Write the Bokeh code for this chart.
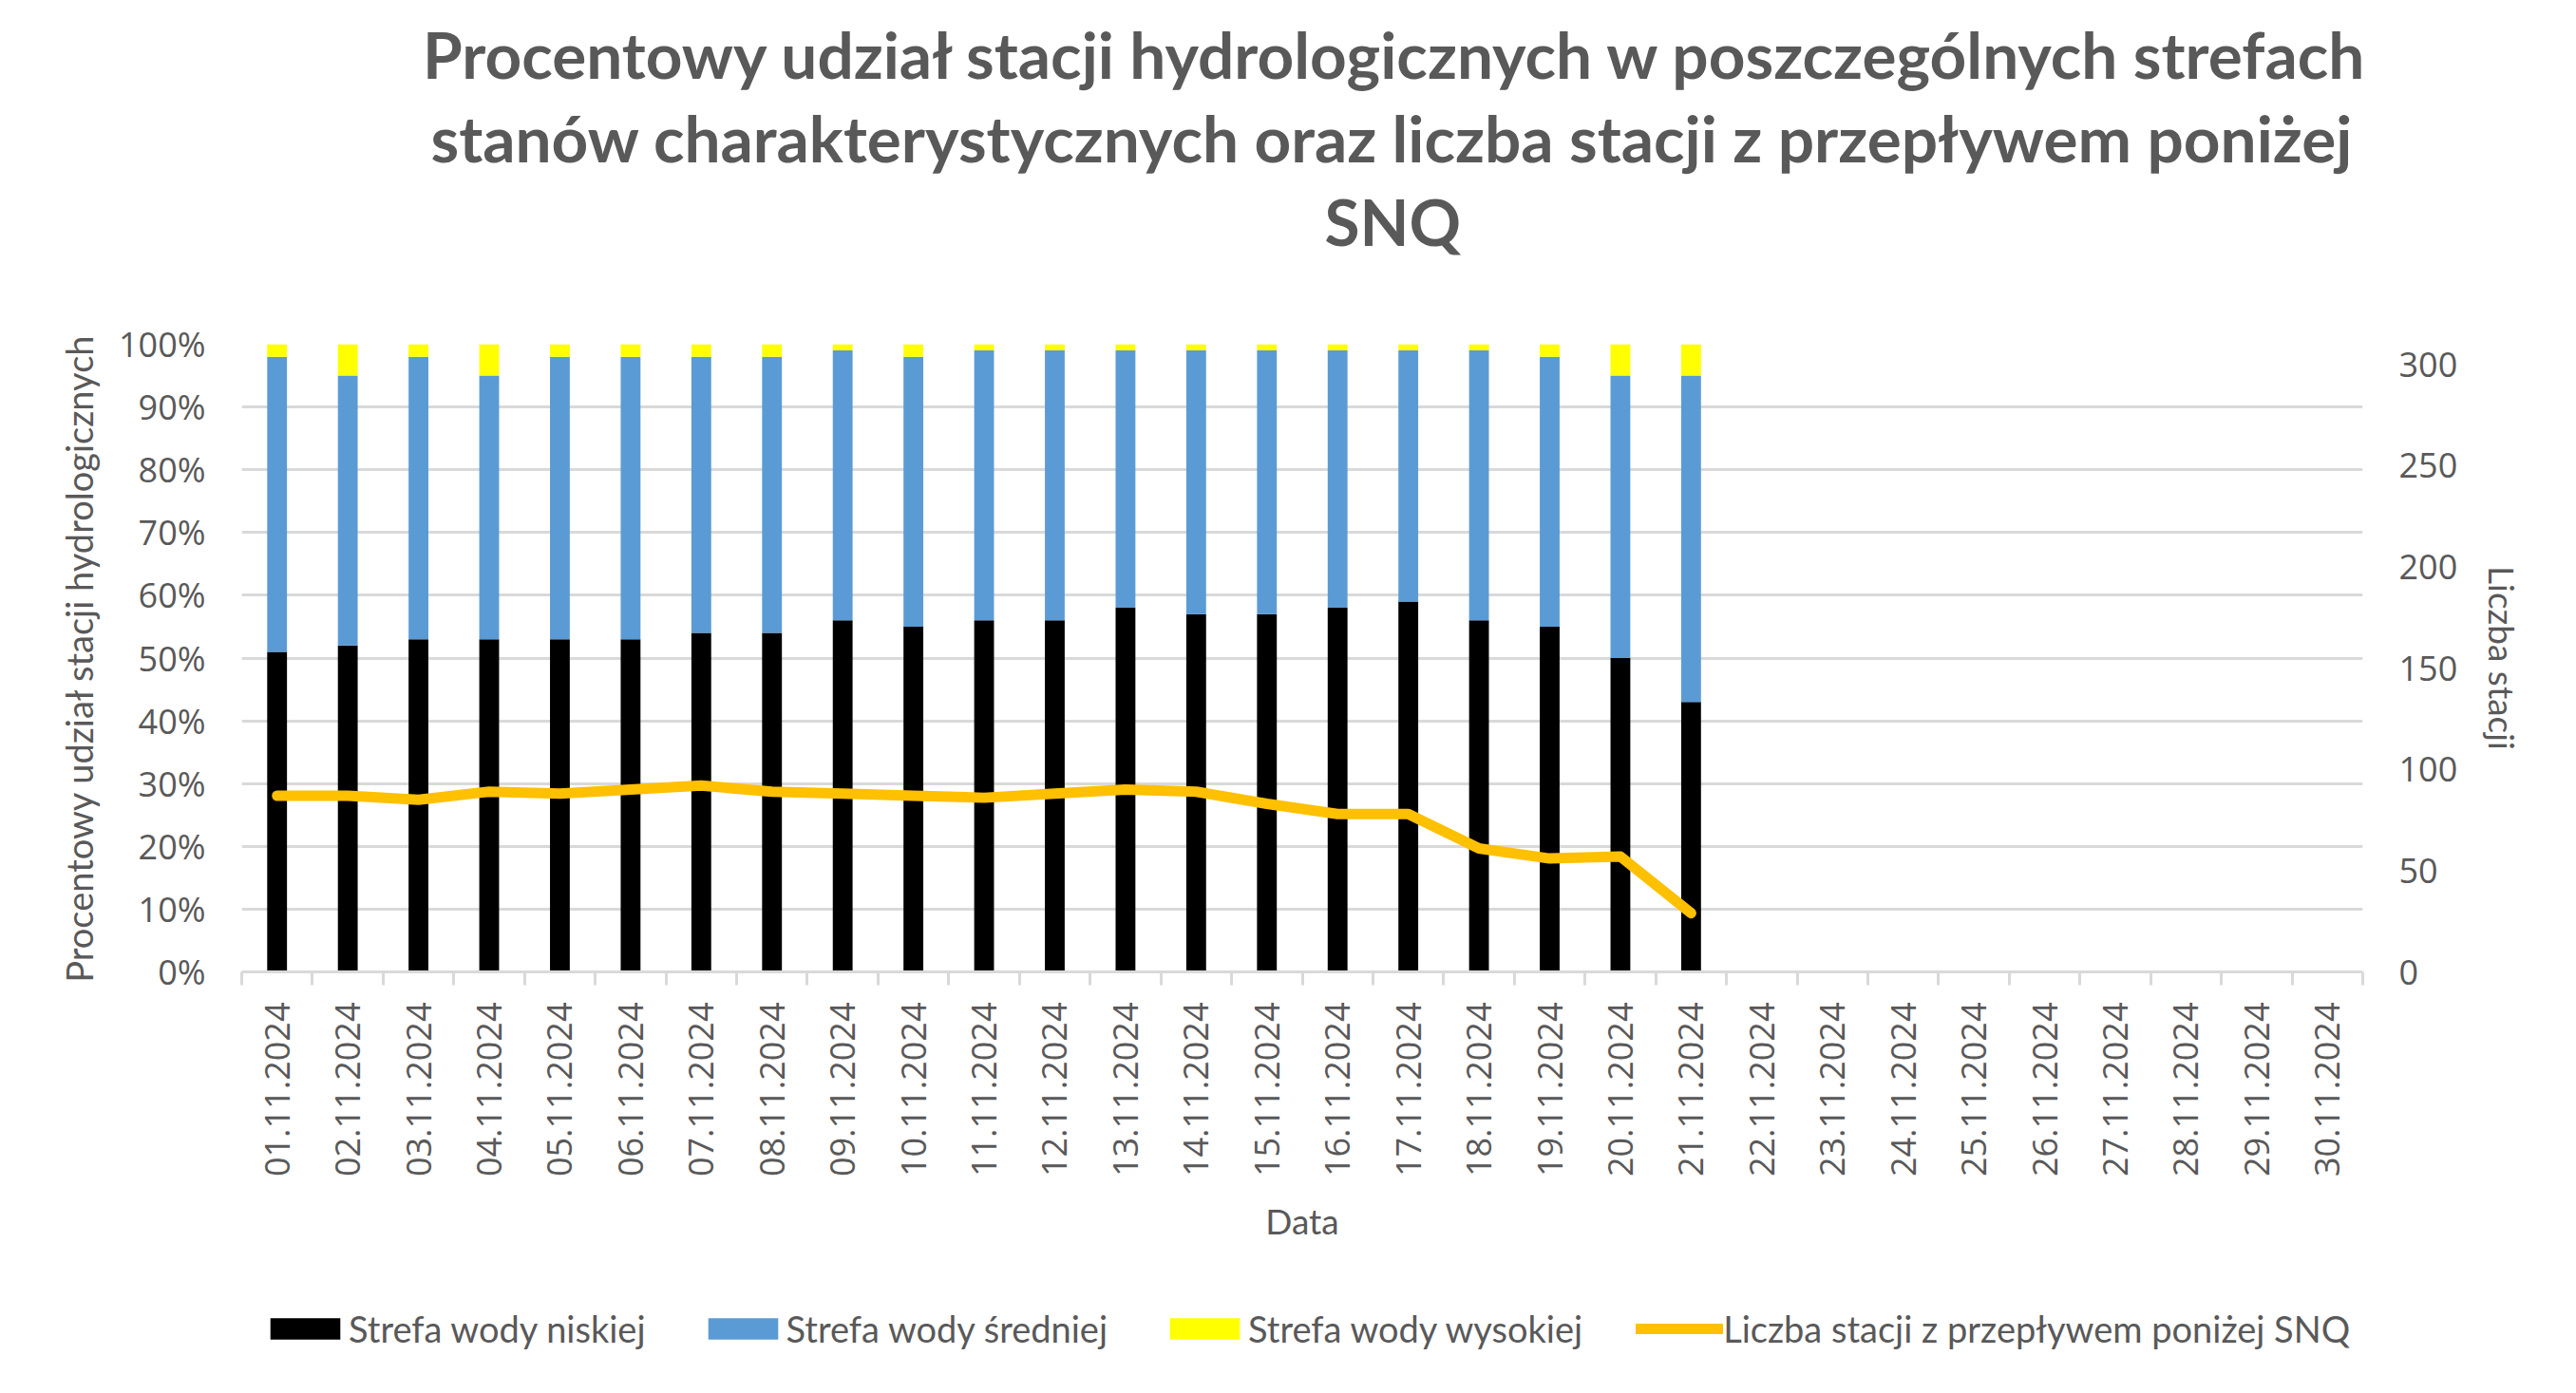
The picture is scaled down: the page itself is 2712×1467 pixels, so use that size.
import math
from bokeh.plotting import figure
from bokeh.layouts import column
from bokeh.models import (Range1d, LinearAxis, FixedTicker, Legend, LegendItem,
                          Title, PrintfTickFormatter, Grid, ColumnDataSource)
from bokeh.embed import file_html
from bokeh.resources import INLINE

# ---------------- data ----------------
dates = ["01.11.2024", "02.11.2024", "03.11.2024", "04.11.2024", "05.11.2024",
         "06.11.2024", "07.11.2024", "08.11.2024", "09.11.2024", "10.11.2024",
         "11.11.2024", "12.11.2024", "13.11.2024", "14.11.2024", "15.11.2024",
         "16.11.2024", "17.11.2024", "18.11.2024", "19.11.2024", "20.11.2024",
         "21.11.2024", "22.11.2024", "23.11.2024", "24.11.2024", "25.11.2024",
         "26.11.2024", "27.11.2024", "28.11.2024", "29.11.2024", "30.11.2024"]
low = [51, 52, 53, 53, 53, 53, 54, 54, 56, 55, 56, 56, 58, 57, 57, 58, 59, 56, 55, 50, 43]
mid = [47, 43, 45, 42, 45, 45, 44, 44, 43, 43, 43, 43, 41, 42, 42, 41, 40, 43, 43, 45, 52]
high = [2, 5, 2, 5, 2, 2, 2, 2, 1, 2, 1, 1, 1, 1, 1, 1, 1, 1, 2, 5, 5]
count = [87, 87, 85, 89, 88, 90, 92, 89, 88, 87, 86, 88, 90, 89, 83, 78, 78, 61, 56, 57, 29]
pct_ticks = [0, 10, 20, 30, 40, 50, 60, 70, 80, 90, 100]
cnt_ticks = [0, 50, 100, 150, 200, 250, 300]
series_names = ["Strefa wody niskiej", "Strefa wody średniej", "Strefa wody wysokiej"]
line_name = "Liczba stacji z przepływem poniżej SNQ"
title_lines = ["Procentowy udział stacji hydrologicznych w poszczególnych strefach",
               "stanów charakterystycznych oraz liczba stacji z przepływem poniżej",
               "SNQ"]

# ---------------- styles / layout ----------------
GRAY = "#595959"
GRID = "#D9D9D9"
COLORS = ["#000000", "#5B9BD5", "#FFFF00"]
LINE_C = "#FFC000"
TICK_FONT = "Open Sans"
TEXT_FONT = "Lato"
TICK_SIZE = "36px"

TOTAL_W = 2696
FRAME_W, FRAME_H = 2233, 661
B_LEFT, B_RIGHT, B_TOP, B_BOTTOM = 254, 209, 362, 317
LEGEND_H = 111                            # height of the legend strip under the chart
LEGEND_POS = (21, 29)                     # legend corner inside the strip frame (px)
TITLE_SIZE = "67.5px"
TITLE_CENTER = 1211                       # title centre, px from frame's left edge
TITLE_WIDTHS = [2041, 2024, 142]          # approx. rendered width of each line (px)

n_cat = len(dates)
xs = list(range(len(low)))

p = figure(frame_width=FRAME_W, frame_height=FRAME_H,
           x_range=Range1d(-0.5, n_cat - 0.5), y_range=Range1d(0, 100),
           x_axis_type=None, y_axis_type=None,
           output_backend="svg", toolbar_location=None, title_location=None,
           min_border_left=B_LEFT, min_border_right=B_RIGHT,
           min_border_top=B_TOP, min_border_bottom=B_BOTTOM,
           background_fill_color="white", border_fill_color="white")
p.outline_line_color = None
p.extra_y_ranges = {"cnt": Range1d(0, 310)}

# left axis
yl = LinearAxis(ticker=FixedTicker(ticks=pct_ticks),
                formatter=PrintfTickFormatter(format="%d%%"))
yl.axis_line_color = None
yl.major_tick_line_color = None
yl.minor_tick_line_color = None
yl.major_label_standoff = 32
yl.major_label_text_font = TICK_FONT
yl.major_label_text_font_size = TICK_SIZE
yl.major_label_text_color = GRAY
yl.axis_label = "Procentowy udział stacji hydrologicznych"
yl.axis_label_text_font = TEXT_FONT
yl.axis_label_text_font_size = "38px"
yl.axis_label_text_font_style = "normal"
yl.axis_label_text_color = GRAY
yl.axis_label_standoff = 16
p.add_layout(yl, "left")

# right axis
yr = LinearAxis(y_range_name="cnt", ticker=FixedTicker(ticks=cnt_ticks))
yr.axis_line_color = None
yr.major_tick_line_color = None
yr.minor_tick_line_color = None
yr.major_label_standoff = 32
yr.major_label_text_font = TICK_FONT
yr.major_label_text_font_size = TICK_SIZE
yr.major_label_text_color = GRAY
yr.axis_label = "Liczba stacji"
yr.axis_label_text_font = TEXT_FONT
yr.axis_label_text_font_size = "37px"
yr.axis_label_text_font_style = "normal"
yr.axis_label_text_color = GRAY
yr.axis_label_standoff = 22
p.add_layout(yr, "right")

# x axis (labels at category centres, ticks at category boundaries)
xa = LinearAxis(ticker=FixedTicker(ticks=list(range(n_cat)),
                                   minor_ticks=[k - 0.5 for k in range(n_cat + 1)]))
xa.major_label_overrides = {i: d for i, d in enumerate(dates)}
xa.major_label_orientation = math.pi / 2
xa.axis_line_color = GRID
xa.axis_line_width = 3
xa.major_tick_line_color = None
xa.minor_tick_line_color = GRID
xa.minor_tick_line_width = 3
xa.minor_tick_out = 14
xa.minor_tick_in = 0
xa.major_label_standoff = 18
xa.major_label_text_font = TICK_FONT
xa.major_label_text_font_size = TICK_SIZE
xa.major_label_text_color = GRAY
xa.axis_label = "Data"
xa.axis_label_text_font = TEXT_FONT
xa.axis_label_text_font_size = "37px"
xa.axis_label_text_font_style = "normal"
xa.axis_label_text_color = GRAY
xa.axis_label_standoff = 21
p.add_layout(xa, "below")

# horizontal grid
p.add_layout(Grid(dimension=1, ticker=yl.ticker, grid_line_color=GRID, grid_line_width=3))

# bars
src = ColumnDataSource(dict(x=xs, low=low, mid=mid, high=high, count=count))
bars = p.vbar_stack(["low", "mid", "high"], x="x", width=0.28, source=src,
                    fill_color=COLORS, line_color=None)

# line
ln = p.line(x="x", y="count", source=src, y_range_name="cnt", line_color=LINE_C,
            line_width=11, line_cap="round", line_join="round")

# title: a blank spacer next to the frame, then the three lines (stacked outward)
p.add_layout(Title(text=" ", text_font_size="20px", standoff=63), "above")
for t, w in zip(reversed(title_lines), reversed(TITLE_WIDTHS)):
    p.add_layout(Title(text=t, align="left", offset=TITLE_CENTER - w / 2,
                       text_font=TEXT_FONT, text_font_size=TITLE_SIZE,
                       text_font_style="bold", text_color=GRAY, standoff=5), "above")

# legend strip under the chart: the series styles are repeated on hidden
# renderers, so only the legend itself is drawn there
lf = figure(width=TOTAL_W, height=LEGEND_H, x_range=Range1d(0, 1),
            y_range=Range1d(0, 1), x_axis_type=None, y_axis_type=None,
            output_backend="svg", toolbar_location=None, title_location=None,
            min_border=0, background_fill_color="white", border_fill_color="white")
lf.outline_line_color = None
lbars = lf.vbar_stack(["low", "mid", "high"], x="x", width=0.28, source=src,
                      fill_color=COLORS, line_color=None)
lln = lf.line(x="x", y="count", source=src, line_color=LINE_C, line_width=11,
              line_cap="round", line_join="round")
for r in list(lbars) + [lln]:
    r.visible = False
items = [LegendItem(label=series_names[k], renderers=[lbars[k]]) for k in range(3)]
items.append(LegendItem(label=line_name, renderers=[lln]))
leg = Legend(items=items, orientation="horizontal", location=LEGEND_POS,
             glyph_width=92, glyph_height=28, label_standoff=0, spacing=56,
             label_text_font=TEXT_FONT, label_text_font_size="38px",
             label_text_color=GRAY, border_line_color=None,
             background_fill_alpha=0, margin=0, padding=0, click_policy="none")
lf.add_layout(leg)

open("out.html", "w").write(file_html(column(p, lf, spacing=0), INLINE))
